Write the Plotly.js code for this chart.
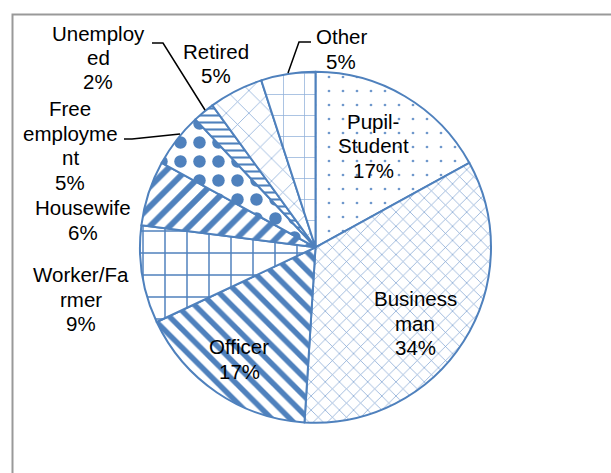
<!DOCTYPE html>
<html><head><meta charset="utf-8">
<script src="https://cdn.plot.ly/plotly-3.0.1.min.js"></script>
<style>html,body{margin:0;padding:0;background:#fff}#chart{width:611px;height:473px}</style>
</head><body><div id="chart"></div>
<script>
// ---- data ----
const categories = ["Pupil-Student","Business man","Officer","Worker/Farmer","Housewife","Free employment","Unemployed","Retired","Other"];
const shares = [17, 34, 17, 9, 6, 5, 2, 5, 5];
// wrapped label text as shown in the chart
const labelLines = [["Pupil-","Student"],["Business","man"],["Officer"],["Worker/Fa","rmer"],["Housewife"],["Free","employme","nt"],["Unemploy","ed"],["Retired"],["Other"]];

// ---- styles (not data) ----
const BLUE = '#4F81BD';
const patShape    = [".",   "x",  "\\", "+",  "/",  ".",  "-",  "x",  "+"];
const patSize     = [14,    10,   13,   22,   14,   19,   7,    16,   21];
const patSolidity = [0.03,  0.14, 0.42, 0.13, 0.42, 0.34, 0.3,  0.1,  0.07];
const patColor    = ['#6F98CC', '#7FA3D1', BLUE, BLUE, BLUE, BLUE, BLUE, '#8FB0DA', '#8FB0DA'];
// label block centres in pixels (layout)
const labelPos = [[373,146],[415,323],[239,359],[81,299],[83,220],[70,145.5],[98,57.5],[216,63.5],[341,49]];
const leaderPaths = [
  [[152,43],[163,43],[205,110]],
  [[124,139],[132,139],[180,134]],
  [[311,42],[299,42],[288,73]]
];

const W = 611, H = 473;
const px = x => x / W, py = y => 1 - y / H;
const FONT = {family: 'Liberation Sans, Arial, sans-serif', size: 20.5, color: '#000'};
const LINE_GAP = 24.5;

const total = shares.reduce((a, b) => a + b, 0);
const annotations = [];
categories.forEach((c, i) => {
  const lines = labelLines[i].concat([Math.round(shares[i] / total * 100) + '%']);
  const n = lines.length;
  lines.forEach((t, k) => {
    annotations.push({
      xref: 'paper', yref: 'paper',
      x: px(labelPos[i][0]), y: py(labelPos[i][1] + (k - (n - 1) / 2) * LINE_GAP),
      xanchor: 'center', yanchor: 'middle',
      text: t, showarrow: false, font: FONT
    });
  });
});

const shapes = leaderPaths.map(p => ({
  type: 'path', xref: 'paper', yref: 'paper',
  path: p.map((q, j) => (j ? 'L' : 'M') + px(q[0]) + ',' + py(q[1])).join(' '),
  line: {color: '#000', width: 1.5}
}));
// chart frame
shapes.push({type: 'rect', xref: 'paper', yref: 'paper', x0: px(12.5), x1: 1.05, y0: -0.05, y1: py(14.5),
  line: {color: '#999999', width: 2}, layer: 'below'});

const cx = 315.5, cy = 247.3, r = 175.5;
const trace = {
  type: 'pie',
  labels: categories,
  values: shares,
  sort: false,
  direction: 'clockwise',
  rotation: 0,
  textinfo: 'none',
  hoverinfo: 'label+percent',
  showlegend: false,
  domain: {x: [px(cx - r), px(cx + r)], y: [py(cy + r), py(cy - r)]},
  marker: {
    colors: categories.map(() => '#FFFFFF'),
    line: {color: BLUE, width: 2},
    pattern: {shape: patShape, size: patSize, solidity: patSolidity, fgcolor: patColor, bgcolor: '#FFFFFF', fillmode: 'replace'}
  }
};

Plotly.newPlot('chart', [trace], {
  width: W, height: H,
  margin: {l: 0, r: 0, t: 0, b: 0},
  paper_bgcolor: '#fff', plot_bgcolor: '#fff',
  showlegend: false,
  annotations: annotations,
  shapes: shapes
}, {displayModeBar: false, staticPlot: true});
</script>
</body></html>
